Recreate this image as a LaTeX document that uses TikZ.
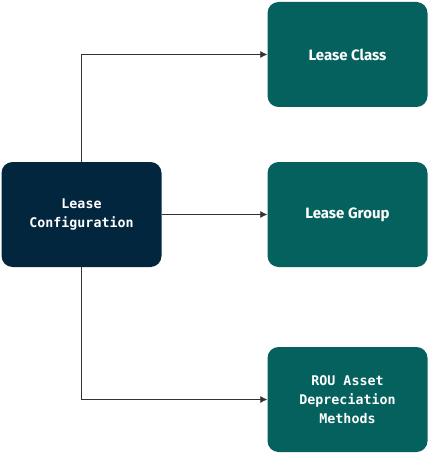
\documentclass[tikz,border=0pt]{standalone}
\usepackage{fontspec}
\setmainfont{Fira Sans}
\newfontfamily\monofnt{DejaVu Sans Mono}
\usetikzlibrary{arrows.meta}
\definecolor{navy}{HTML}{03263F}
\definecolor{teal}{HTML}{04615E}
\tikzset{
  box/.style={rounded corners=11pt, minimum width=160pt, minimum height=105pt, inner sep=0pt, text=white, align=center, font=\fontsize{15}{18}\selectfont\bfseries},
  conn/.style={draw=black!80, line width=0.8pt, -{Latex[length=7pt,width=7pt]}},
}
\begin{document}
\begin{tikzpicture}[x=1pt,y=-1pt]
\useasboundingbox (0,0) rectangle (429,457);
\node[box, fill=navy, font=\fontsize{13.3}{19}\selectfont\monofnt\bfseries] (cfg) at (81.5,214.5) {Lease\\Configuration};
\node[box, fill=teal] (cls) at (347.5,54.5) {Lease Class};
\node[box, fill=teal] (grp) at (347.5,214.5) {Lease Group};
\node[box, fill=teal, font=\fontsize{13.3}{19}\selectfont\monofnt\bfseries] (rou) at (347.5,399.5) {ROU Asset\\Depreciation\\Methods};
\draw[conn] (cfg.north) |- (cls.west);
\draw[conn] (cfg.east) -- (grp.west);
\draw[conn] (cfg.south) |- (rou.west);
\end{tikzpicture}
\end{document}
